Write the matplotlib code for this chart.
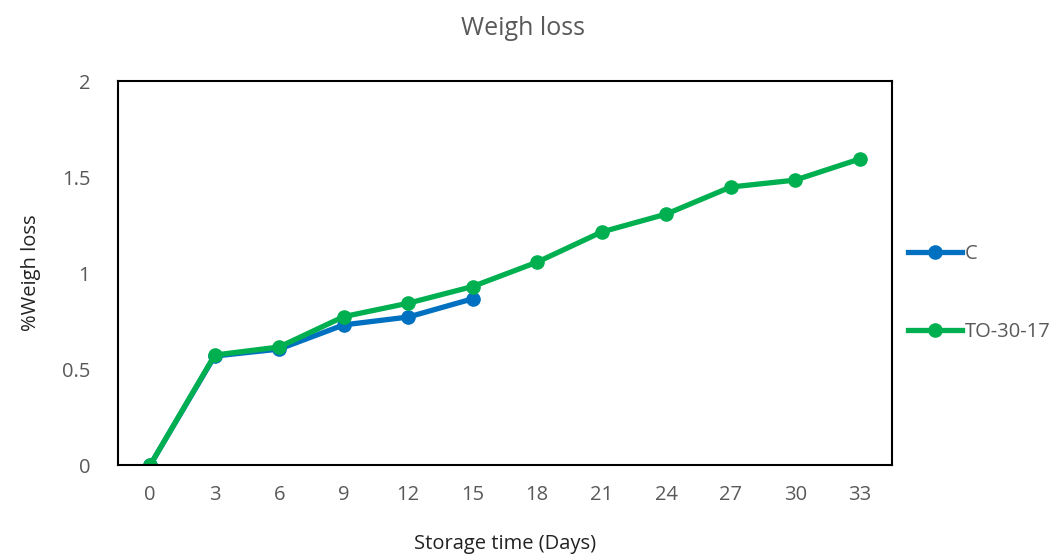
import matplotlib.pyplot as plt
import numpy as np

days = ["0", "3", "6", "9", "12", "15", "18", "21", "24", "27", "30", "33"]
c_loss = [0, 0.568, 0.604, 0.730, 0.771, 0.866]
to_loss = [0, 0.573, 0.615, 0.773, 0.843, 0.930, 1.057, 1.214, 1.307, 1.448, 1.484, 1.594]

plt.rcParams['font.family'] = ['Open Sans', 'DejaVu Sans']
gray = '#595959'

fig = plt.figure(figsize=(10.58, 5.55), dpi=100)
ax = fig.add_axes([0.1115, 0.162, 0.7315, 0.692])

x = np.arange(len(days))
ax.plot(x[:len(c_loss)], c_loss, color='#0070C0', lw=3.8, marker='o', ms=9.5, label='C')
ax.plot(x, to_loss, color='#00B050', lw=3.8, marker='o', ms=9.5, label='TO-30-17')

ax.set_xlim(-0.5, len(days) - 0.5)
ax.set_ylim(0, 2)
ax.set_xticks(x)
ax.set_xticklabels(days)
ax.set_yticks([0, 0.5, 1, 1.5, 2])
ax.set_yticklabels(['0', '0.5', '1', '1.5', '2'])
ax.tick_params(length=0, labelsize=14.5, colors=gray)
ax.tick_params(axis='x', pad=14)
ax.tick_params(axis='y', pad=20)
for s in ax.spines.values():
    s.set_linewidth(1.5)
    s.set_color('black')

ax.set_xlabel('Storage time (Days)', fontsize=14.5, color='#222222', labelpad=21)
ax.set_ylabel('%Weigh loss', fontsize=14.5, color='#222222', labelpad=15)
fig.text(0.494, 0.948, 'Weigh loss', ha='center', va='center', fontsize=18, color=gray)

ax.legend(loc='center left', bbox_to_anchor=(1.0, 0.448), frameon=False,
          fontsize=14.5, labelspacing=2.85, handlelength=2.7, handletextpad=0.1,
          labelcolor=gray, borderaxespad=0.4, borderpad=0.4)

fig.savefig('out.png', dpi=100)
